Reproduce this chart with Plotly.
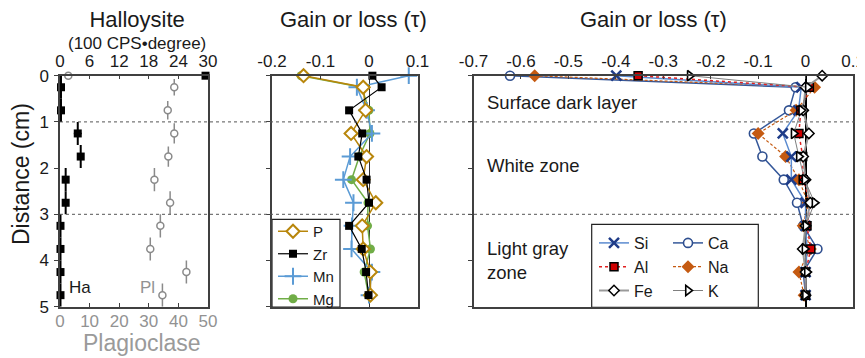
import plotly.graph_objects as go

# ---------------- data ----------------
depth = [0, 0.25, 0.75, 1.25, 1.75, 2.25, 2.75, 3.25, 3.75, 4.25, 4.75]

halloysite = [29.5, 0.2, 0.2, 3.6, 4.2, 1.15, 1.15, 0.1, 0.1, 0.1, 0.1]
halloysite_err_depth = [0, 0.25, 0.25, 0.25, 0.25, 0.25, 0.25, 0.25, 0.25, 0.25, 0.25]
halloysite_err_x = [0, 0, 0, 0.8, 0.6, 0, 0, 0, 0, 0, 0]
plagioclase = [2.8, 38.6, 36.4, 38.6, 36.6, 31.9, 37.2, 33.9, 30.5, 42.7, 34.6]
plagioclase_err_depth = [0, 0.18, 0.2, 0.22, 0.22, 0.25, 0.25, 0.25, 0.25, 0.25, 0.25]

tau_P = [-0.135, -0.012, -0.007, -0.037, -0.005, -0.012, 0.014, -0.014, -0.012, 0.003, 0.003]
tau_Zr = [0.007, 0.026, -0.041, -0.014, -0.022, -0.005, 0.0, -0.041, -0.015, -0.006, -0.001]
tau_Mn = [0.082, -0.025, -0.005, 0.006, -0.039, -0.053, -0.032, -0.035, -0.036, 0.006, 0.0]
tau_Mg = [-0.14, -0.015, 0.0, 0.002, -0.02, -0.036, -0.002, -0.003, 0.003, -0.01, -0.001]

tau_Si = [-0.399, -0.009, -0.015, -0.048, -0.03, -0.03, 0.0, 0.0, 0.003, 0.0, 0.0]
tau_Al = [-0.353, 0.008, -0.01, -0.014, -0.006, -0.005, 0.01, 0.003, 0.011, 0.0, 0.0]
tau_Fe = [0.035, 0.0, -0.005, 0.007, -0.005, 0.0, 0.01, 0.0, -0.006, 0.0, 0.0]
tau_Ca = [-0.623, -0.021, -0.035, -0.109, -0.091, -0.046, -0.018, -0.005, 0.025, -0.005, 0.0]
tau_Na = [-0.571, 0.019, -0.02, -0.1, -0.042, -0.014, 0.005, -0.005, 0.01, -0.014, -0.003]
tau_K = [-0.244, 0.005, -0.009, -0.025, -0.014, -0.002, 0.019, 0.0, -0.002, 0.003, -0.001]

depth_ticks = [0, 1, 2, 3, 4, 5]
ha_ticks = [0, 6, 12, 18, 24, 30]
pl_ticks = [0, 10, 20, 30, 40, 50]
mid_ticks = [-0.2, -0.1, 0, 0.1]
mid_ticktext = ["-0.2", "-0.1", "0", "0.1"]
right_ticks = [-0.7, -0.6, -0.5, -0.4, -0.3, -0.2, -0.1, 0, 0.1]
right_ticktext = ["-0.7", "-0.6", "-0.5", "-0.4", "-0.3", "-0.2", "-0.1", "0", "0.1"]
zone_boundaries = [1, 3]

# ---------------- layout helpers ----------------
# the page body has an 8px margin, so the figure is shrunk and all
# positions (given in screen pixels) are shifted by that offset
OFF = 8
W, H = 865 - OFF, 358 - OFF
FONT = "Arial, 'Liberation Sans', sans-serif"
GRAY = "#929292"
AX = "#404040"


def px(x):
    return (x - OFF) / W


def py(y):
    return 1 - (y - OFF) / H


YDOM = [py(306.7), py(75.7)]

fig = go.Figure()

# ---------------- left panel ----------------
fig.add_trace(go.Scatter(
    x=plagioclase, y=depth, xaxis="x2", yaxis="y", mode="markers",
    marker=dict(symbol="circle", size=7, color="white", line=dict(color="#8a8a8a", width=1.5)),
    error_y=dict(type="data", array=plagioclase_err_depth, color="#8a8a8a", thickness=1.5, width=0),
    showlegend=False, cliponaxis=False))
fig.add_trace(go.Scatter(
    x=halloysite, y=depth, xaxis="x", yaxis="y", mode="markers",
    marker=dict(symbol="square", size=8, color="black"),
    error_y=dict(type="data", array=halloysite_err_depth, color="black", thickness=2, width=0),
    error_x=dict(type="data", array=halloysite_err_x, color="black", thickness=1.5, width=0),
    showlegend=False, cliponaxis=False))

# ---------------- middle panel ----------------
mid_style = [
    ("Mg", tau_Mg, dict(color="#70AD47", width=1.5), dict(symbol="circle", size=9, color="#70AD47"), 4),
    ("Mn", tau_Mn, dict(color="#5B9BD5", width=1.5), dict(symbol="cross-thin", size=12, color="#5B9BD5", line=dict(color="#5B9BD5", width=2)), 3),
    ("P", tau_P, dict(color="#B8860B", width=1.5), dict(symbol="diamond", size=10, color="white", line=dict(color="#B8860B", width=2)), 1),
    ("Zr", tau_Zr, dict(color="black", width=1.2), dict(symbol="square", size=8, color="black"), 2),
]
for name, vals, line, marker, rank in mid_style:
    fig.add_trace(go.Scatter(
        x=vals, y=depth, xaxis="x3", yaxis="y2", mode="lines+markers", name=name,
        line=line, marker=marker, legend="legend", legendrank=rank, cliponaxis=False))

# ---------------- right panel ----------------
right_style = [
    ("Ca", tau_Ca, dict(color="#35589A", width=1.5), dict(symbol="circle", size=9, color="white", line=dict(color="#2F4F8F", width=1.6)), "legend3"),
    ("Na", tau_Na, dict(color="#C55A11", width=1.2, dash="3px,2px"), dict(symbol="diamond", size=10, color="#C55A11"), "legend3"),
    ("Si", tau_Si, dict(color="#5B8BD0", width=1.5), dict(symbol="x-thin", size=10, color="#1F3C88", line=dict(color="#1F3C88", width=2.5)), "legend2"),
    ("Al", tau_Al, dict(color="#E02020", width=1.5, dash="3px,3px"), dict(symbol="square", size=8, color="#D00000", line=dict(color="black", width=1.5)), "legend2"),
    ("Fe", tau_Fe, dict(color="#9a9a9a", width=2), dict(symbol="diamond", size=8, color="white", line=dict(color="black", width=1.5)), "legend2"),
    ("K", tau_K, dict(color="#7f7f7f", width=1), dict(symbol="triangle-right", size=9, color="white", line=dict(color="black", width=1.6)), "legend3"),
]
for name, vals, line, marker, leg in right_style:
    fig.add_trace(go.Scatter(
        x=vals, y=depth, xaxis="x4", yaxis="y3", mode="lines+markers", name=name,
        line=line, marker=marker, legend=leg, cliponaxis=False))

# ---------------- axes ----------------
tickfont = dict(family=FONT, size=17, color="#1a1a1a")
common_x = dict(showgrid=False, showline=True, linecolor=AX, linewidth=1.5, automargin=False,
                ticks="inside", ticklen=4, tickcolor=AX, tickwidth=1, tickfont=tickfont)
common_y = dict(showgrid=False, showline=True, linecolor=AX, linewidth=1.5, mirror=True, automargin=False,
                ticks="outside", ticklen=4, tickcolor=AX, range=[5, 0], domain=YDOM,
                tickvals=depth_ticks, zeroline=False, tickfont=tickfont)

fig.update_layout(
    width=W, height=H,
    margin=dict(l=0, r=0, t=0, b=0, autoexpand=False),
    paper_bgcolor="white", plot_bgcolor="rgba(0,0,0,0)",
    font=dict(family=FONT, color="#1a1a1a"),
    xaxis=dict(common_x, domain=[px(60), px(208)], range=[0, 30], side="top", anchor="y",
               tickvals=ha_ticks, zeroline=False),
    xaxis2=dict(common_x, overlaying="x", range=[0, 50], side="bottom", anchor="y",
                tickvals=pl_ticks, zeroline=False, ticklabelstandoff=-2,
                tickfont=dict(family=FONT, size=17, color=GRAY)),
    yaxis=dict(common_y, anchor="x", showticklabels=True, ticklabelstandoff=2),
    xaxis3=dict(common_x, domain=[px(272), px(417.5)], range=[-0.2, 0.1], side="top", anchor="y2",
                mirror=True, tickvals=mid_ticks, ticktext=mid_ticktext,
                zeroline=True, zerolinecolor="#333333", zerolinewidth=1.2),
    yaxis2=dict(common_y, anchor="x3", showticklabels=False),
    xaxis4=dict(common_x, domain=[px(473.5), px(853)], range=[-0.7, 0.1], side="top", anchor="y3",
                mirror=True, tickvals=right_ticks, ticktext=right_ticktext,
                zeroline=True, zerolinecolor="black", zerolinewidth=2),
    yaxis3=dict(common_y, anchor="x4", showticklabels=False),
    legend=dict(x=px(273), y=py(215), xanchor="left", yanchor="top",
                bgcolor="rgba(0,0,0,0)", borderwidth=0,
                font=dict(family=FONT, size=15, color="#1a1a1a"), tracegroupgap=0),
    legend2=dict(x=px(594), y=py(226), xanchor="left", yanchor="top",
                 bgcolor="rgba(0,0,0,0)", borderwidth=0,
                 font=dict(family=FONT, size=16, color="#1a1a1a")),
    legend3=dict(x=px(668), y=py(226), xanchor="left", yanchor="top",
                 bgcolor="rgba(0,0,0,0)", borderwidth=0,
                 font=dict(family=FONT, size=16, color="#1a1a1a")),
)

# ---------------- shapes ----------------
for yb in zone_boundaries:
    fig.add_shape(type="line", xref="paper", yref="y", x0=px(60), x1=1.0, y0=yb, y1=yb,
                  line=dict(color="#555555", width=1, dash="3px,3px"), layer="above")
fig.add_shape(type="rect", xref="paper", yref="paper", x0=px(272), x1=px(340), y0=py(307), y1=py(219.3),
              line=dict(color="#222222", width=1.2), fillcolor="white", layer="below")
fig.add_shape(type="rect", xref="paper", yref="paper", x0=px(591.7), x1=px(758.3), y0=py(307.3), y1=py(224.3),
              line=dict(color="#222222", width=1.2), fillcolor="white", layer="below")

# ---------------- annotations ----------------
def ann(text, x, y, size, color="#1a1a1a", xanchor="center", angle=0, align="center"):
    fig.add_annotation(text=text, x=px(x), y=py(y), xref="paper", yref="paper",
                       xanchor=xanchor, yanchor="middle", showarrow=False, textangle=angle,
                       align=align, font=dict(family=FONT, size=size, color=color))

ann("<span style='font-size:22px'>Halloysite</span><br>(100 CPS•degree)", 137, 30.5, 17)
ann("Plagioclase", 142, 343, 23, color="#9a9a9a")
ann("Distance (cm)", 21, 174, 23, angle=-90)
ann("Ha", 80, 287.5, 17)
ann("Pl", 147.5, 287.5, 17, color=GRAY)
ann("Gain or loss (τ)", 353, 19.5, 22)
ann("Gain or loss (τ)", 653, 19.5, 22)
ann("Surface dark layer", 485, 103, 18.5, xanchor="left")
ann("White zone", 485, 165, 18.5, xanchor="left")
ann("Light gray<br>zone", 485, 260, 18.5, xanchor="left", align="left")

fig.write_html("out.html")
